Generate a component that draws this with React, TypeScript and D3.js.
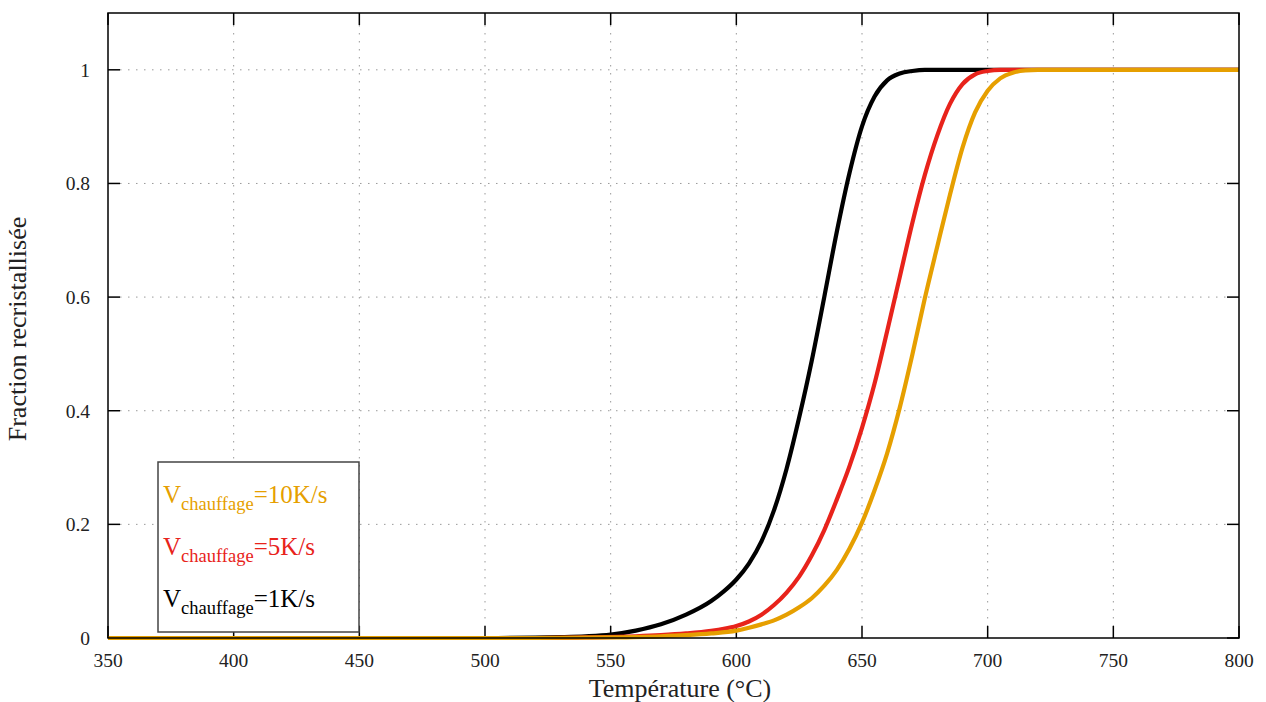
import React from "react";
import * as d3 from "d3";

const xTicks = [350, 400, 450, 500, 550, 600, 650, 700, 750, 800];
const yTicks = [0, 0.2, 0.4, 0.6, 0.8, 1];
const yTickLabels = ["0", "0.2", "0.4", "0.6", "0.8", "1"];

const black1K: [number, number][] = [
  [350, 0], [505, 0], [520, 0.0005], [530, 0.0015], [540, 0.003], [550, 0.006], [560, 0.013],
  [570, 0.024], [580, 0.041], [590, 0.065], [595, 0.082], [600, 0.103], [605, 0.131],
  [610, 0.17], [615, 0.225], [620, 0.298], [625, 0.388], [630, 0.488], [635, 0.6005],
  [640, 0.7155], [645, 0.818], [650, 0.9005], [655, 0.953], [660, 0.9815], [665, 0.9935],
  [670, 0.998], [675, 1], [800, 1],
];
const red5K: [number, number][] = [
  [350, 0], [520, 0], [540, 0.001], [560, 0.003], [570, 0.005], [580, 0.008], [590, 0.0125],
  [595, 0.016], [600, 0.021], [605, 0.029], [610, 0.041], [615, 0.058], [620, 0.08],
  [625, 0.108], [630, 0.145], [635, 0.19], [640, 0.244], [645, 0.302], [650, 0.37],
  [655, 0.448], [660, 0.54], [665, 0.635], [670, 0.73], [675, 0.815], [680, 0.885],
  [685, 0.94], [690, 0.975], [695, 0.992], [700, 0.998], [705, 1], [800, 1],
];
const orange10K: [number, number][] = [
  [350, 0], [520, 0], [550, 0.001], [570, 0.003], [580, 0.005], [590, 0.008], [600, 0.013],
  [605, 0.018], [610, 0.024], [615, 0.031], [620, 0.041], [625, 0.054], [630, 0.07],
  [635, 0.092], [640, 0.12], [645, 0.157], [650, 0.203], [655, 0.26], [660, 0.325],
  [665, 0.405], [670, 0.498], [675, 0.598], [680, 0.69], [685, 0.78], [690, 0.863],
  [695, 0.925], [700, 0.963], [705, 0.985], [710, 0.995], [715, 0.999], [720, 1], [800, 1],
];

const seriesNames = ["1K/s", "5K/s", "10K/s"];
const seriesColors = ["#000000", "#e8231b", "#e69f00"];
const seriesData = [black1K, red5K, orange10K];

const legendOrder = [2, 1, 0];

export default function App() {
  const W = 1266, H = 702;
  const left = 108, right = 1239, top = 13, bottom = 638;
  const x = d3.scaleLinear().domain([350, 800]).range([left, right]);
  const y = d3.scaleLinear().domain([0, 1.1]).range([bottom, top]);
  const line = d3
    .line<[number, number]>()
    .x((d) => x(d[0]))
    .y((d) => y(d[1]))
    .curve(d3.curveMonotoneX);
  const tl = 12;
  const font = "'Liberation Serif', 'DejaVu Serif', serif";
  const grid = "#999";

  return (
    <svg width={W} height={H} style={{ position: "absolute", left: 0, top: 0, background: "#fff" }}>
      <rect x={0} y={0} width={W} height={H} fill="#fff" />
      {/* grid */}
      {xTicks.slice(1, -1).map((t) => (
        <line key={"gx" + t} x1={x(t)} x2={x(t)} y1={top + tl} y2={bottom - tl}
          stroke={grid} strokeWidth={1} strokeDasharray="1.5,6.5" />
      ))}
      {yTicks.slice(1).map((t) => (
        <line key={"gy" + t} x1={left + tl} x2={right - tl} y1={y(t)} y2={y(t)}
          stroke={grid} strokeWidth={1} strokeDasharray="1.5,6.5" />
      ))}
      {/* ticks */}
      {xTicks.map((t) => (
        <g key={"tx" + t}>
          <line x1={x(t)} x2={x(t)} y1={bottom} y2={bottom - tl} stroke="#000" strokeWidth={1.5} />
          <line x1={x(t)} x2={x(t)} y1={top} y2={top + tl} stroke="#000" strokeWidth={1.5} />
          <text x={x(t)} y={bottom + 29} textAnchor="middle" fontFamily={font} fontSize={19.5} fill="#222">{t}</text>
        </g>
      ))}
      {yTicks.map((t, i) => (
        <g key={"ty" + t}>
          <line x1={left} x2={left + tl} y1={y(t)} y2={y(t)} stroke="#000" strokeWidth={1.5} />
          <line x1={right} x2={right - tl} y1={y(t)} y2={y(t)} stroke="#000" strokeWidth={1.5} />
          <text x={90} y={y(t) + 7} textAnchor="end" fontFamily={font} fontSize={19.5} fill="#222">{yTickLabels[i]}</text>
        </g>
      ))}
      {/* curves */}
      {seriesData.map((d, i) => (
        <path key={"s" + i} d={line(d) || ""} fill="none" stroke={seriesColors[i]} strokeWidth={4.2}
          strokeLinejoin="round" />
      ))}
      {/* frame */}
      <rect x={left} y={top} width={right - left} height={bottom - top} fill="none" stroke="#000" strokeWidth={1.5} />
      {/* legend */}
      <rect x={158} y={462} width={201} height={170} fill="#fff" stroke="#444" strokeWidth={1.5} />
      {legendOrder.map((si, k) => (
        <text key={"lg" + si} x={163} y={503 + k * 52} fontFamily={font} fontSize={25} fill={seriesColors[si]}>
          V
          <tspan fontSize={18.5} dy={7}>chauffage</tspan>
          <tspan dy={-7}>={seriesNames[si]}</tspan>
        </text>
      ))}
      {/* axis titles */}
      <text x={680} y={697} textAnchor="middle" fontFamily={font} fontSize={26} fill="#222">
        Température (°C)
      </text>
      <text transform={`translate(26, 329) rotate(-90)`} textAnchor="middle"
        fontFamily={font} fontSize={26} fill="#222">
        Fraction recristallisée
      </text>
    </svg>
  );
}
